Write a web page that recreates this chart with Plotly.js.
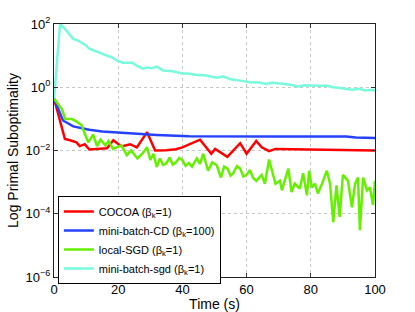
<!DOCTYPE html>
<html>
<head>
<meta charset="utf-8">
<script src="https://cdn.plot.ly/plotly-3.0.1.min.js"></script>
<style>html,body{margin:0;padding:0;background:#fff;}#chart{width:415px;height:312px;}</style>
</head>
<body>
<div id="chart"></div>
<script>
// COCOA (beta_k = 1)
const cocoaX = [0, 2.5, 3.4, 5, 7, 8, 9.6, 11, 16.5, 18.5, 21, 23.7, 25.8, 29, 31.5, 35, 38, 40, 45.5, 49, 50.2, 54, 58, 60, 63, 64.7, 67, 69, 75, 100];
const cocoaY = [0.44, 0.054, 0.023, 0.021, 0.018, 0.0138, 0.0158, 0.0107, 0.0117, 0.021, 0.0135, 0.0158, 0.0126, 0.038, 0.0100, 0.0102, 0.011, 0.0126, 0.022, 0.0079, 0.0112, 0.0063, 0.017, 0.0079, 0.020, 0.0126, 0.0095, 0.0112, 0.011, 0.0100];

// mini-batch-CD (beta_k = 100)
const cdX = [0, 1.5, 2.8, 6, 9, 11, 15, 19.6, 26, 32, 42, 50, 58, 70, 80, 91, 94, 100];
const cdY = [0.44, 0.2, 0.089, 0.058, 0.050, 0.045, 0.040, 0.037, 0.033, 0.031, 0.028, 0.0275, 0.0275, 0.0275, 0.0275, 0.0275, 0.0257, 0.025];

// local-SGD (beta_k = 1)
const sgdX = [0, 1.3, 2.5, 3.5, 5.5, 7, 8.6, 9.6, 10.7, 12.2, 13.4, 14.5, 16, 17, 18.4, 19.5, 21, 22.7, 24, 26, 27.5, 29, 30, 31, 32, 33, 34, 35, 36, 37, 38, 39, 40, 41, 42, 43, 44.5, 45.5, 46.5, 48, 49.3, 50.7, 52, 53, 54, 55, 55.8, 57, 58, 59, 60, 61, 62, 63, 64.7, 65.7, 67, 69, 70.4, 71, 73, 74, 75, 76.6, 77.6, 78.8, 79.5, 80.3, 81.3, 82.2, 83.5, 85, 86, 87, 88, 89, 90, 91.6, 92.8, 93.8, 94.7, 95.3, 96.3, 97.5, 98.4, 99.4, 100];
const sgdY = [0.44, 0.30, 0.20, 0.10, 0.10, 0.083, 0.063, 0.034, 0.018, 0.032, 0.0138, 0.022, 0.0145, 0.020, 0.0112, 0.0126, 0.0145, 0.0071, 0.010, 0.0056, 0.0079, 0.0126, 0.005, 0.0079, 0.003, 0.0056, 0.0035, 0.0039, 0.006, 0.0036, 0.0042, 0.0058, 0.005, 0.0033, 0.004, 0.0031, 0.0056, 0.0038, 0.0079, 0.0023, 0.0042, 0.0034, 0.0014, 0.0031, 0.0027, 0.0016, 0.0019, 0.0032, 0.0027, 0.0015, 0.0017, 0.0024, 0.0014, 0.0011, 0.0017, 0.00089, 0.0052, 0.00089, 0.0011, 0.00055, 0.0027, 0.00049, 0.00089, 0.00063, 0.0019, 0.00038, 0.0023, 0.00068, 0.00089, 0.00044, 0.00089, 0.0023, 0.00089, 0.000054, 0.00079, 0.000079, 0.0017, 0.0011, 0.00016, 0.00089, 0.0014, 0.00003, 0.0014, 0.00055, 0.00068, 0.00019, 0.0011];

// mini-batch-sgd (beta_k = 1)
const mbX = [0, 1.9, 3.4, 6, 7.5, 9, 10, 11, 13.7, 14.5, 16.5, 18, 19.6, 21.5, 24.3, 25.8, 27.7, 29, 30.5, 32, 34, 37, 40, 42, 44, 47.5, 50.7, 52.6, 55, 58, 61, 64, 66, 68, 70, 72, 74, 76, 78, 80, 82, 85, 87, 89, 91, 93, 95, 97, 99, 100];
const mbY = [0.44, 100, 70, 34, 30, 25, 21, 16.5, 12.6, 11.7, 10, 8.9, 6.9, 6.0, 6.0, 4.8, 3.9, 4.2, 4.0, 4.5, 3.4, 3.2, 2.7, 2.7, 2.5, 2.35, 2.0, 2.2, 1.8, 1.62, 1.45, 1.41, 1.26, 1.38, 1.35, 1.26, 1.17, 1.05, 1.15, 1.12, 1.12, 1.12, 1.0, 0.95, 0.91, 0.83, 0.89, 0.79, 0.83, 0.79];

const names = ['COCOA (β<sub>k</sub>=1)', 'mini-batch-CD (β<sub>k</sub>=100)', 'local-SGD (β<sub>k</sub>=1)', 'mini-batch-sgd (β<sub>k</sub>=1)'];
const colors = ['rgb(255,0,0)', 'rgb(35,65,255)', 'rgb(100,240,0)', 'rgb(120,250,220)'];

const xTicks = [0, 20, 40, 60, 80, 100];
const yTickVals = [1e-6, 1e-4, 1e-2, 1, 100];
const yTickText = ['10<sup>−6</sup>', '10<sup>−4</sup>', '10<sup>−2</sup>', '10<sup>0</sup>', '10<sup>2</sup>'];

const series = [[cocoaX, cocoaY], [cdX, cdY], [sgdX, sgdY], [mbX, mbY]];
const traces = series.map((s, i) => ({
  x: s[0], y: s[1], type: 'scatter', mode: 'lines', name: names[i],
  line: {color: colors[i], width: 2.5}
}));

const font = {family: 'Liberation Sans, Arial, Helvetica, sans-serif', color: '#000'};
const layout = {
  width: 415, height: 312,
  margin: {l: 54, r: 40, t: 24, b: 35},
  paper_bgcolor: '#fff', plot_bgcolor: '#fff',
  font: Object.assign({size: 13}, font),
  showlegend: true,
  legend: {
    x: 0.012, y: 0.32, xanchor: 'left', yanchor: 'top',
    bordercolor: '#000', borderwidth: 1, bgcolor: '#fff',
    font: Object.assign({size: 11}, font),
    tracegroupgap: 0
  },
  xaxis: {
    range: [0, 100], tickvals: xTicks, ticks: 'inside', ticklen: 4, tickcolor: '#333',
    showline: true, linecolor: '#222', linewidth: 1, mirror: 'ticks',
    showgrid: true, gridcolor: '#c8c8c8', griddash: 'dot', gridwidth: 1,
    zeroline: false, tickfont: Object.assign({size: 13}, font),
    title: {text: 'Time (s)', font: Object.assign({size: 14}, font), standoff: 2}
  },
  yaxis: {
    type: 'log', range: [-6, 2], tickvals: yTickVals, ticktext: yTickText,
    ticks: 'inside', ticklen: 4, tickcolor: '#333',
    showline: true, linecolor: '#222', linewidth: 1, mirror: 'ticks',
    showgrid: true, gridcolor: '#c8c8c8', griddash: 'dot', gridwidth: 1,
    zeroline: false, tickfont: Object.assign({size: 13}, font),
    title: {text: 'Log Primal Suboptimality', font: Object.assign({size: 14}, font), standoff: 3}
  }
};

Plotly.newPlot('chart', traces, layout, {staticPlot: true, displayModeBar: false});
</script>
</body>
</html>
